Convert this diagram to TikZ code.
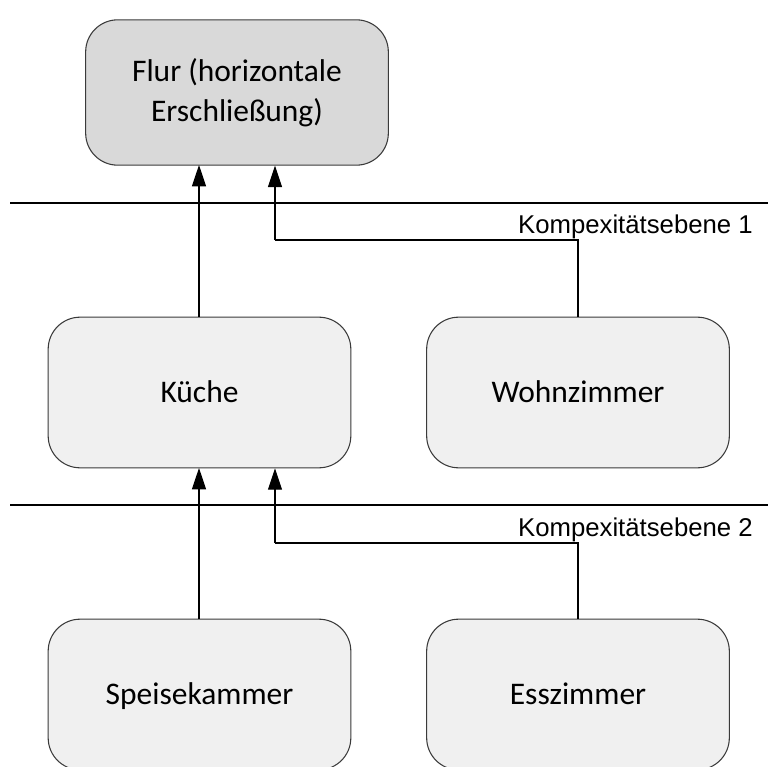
\documentclass[tikz,border=0pt]{standalone}
\usepackage{fontspec}
\usetikzlibrary{arrows.meta}
\newfontfamily\boxfont{Carlito}
\newfontfamily\labelfont{Liberation Sans}
\definecolor{roomfill}{HTML}{F0F0F0}
\definecolor{hallfill}{HTML}{D9D9D9}
\definecolor{roomedge}{HTML}{3A3A3A}
\tikzset{
  boxbase/.style={draw=roomedge, line width=0.8pt, fill=roomfill, rounded corners=24pt,
    minimum width=227pt, minimum height=113pt, inner sep=0pt, align=center,
    font=\boxfont\fontsize{23.6}{30}\selectfont},
  room/.style={boxbase, text height=17pt, text depth=2pt},
  hall/.style={boxbase, fill=hallfill, minimum height=109pt},
  levelline/.style={line width=0.8pt, black},
  levellabel/.style={anchor=base east, inner sep=0pt, font=\labelfont\fontsize{19.3}{23}\selectfont},
  link/.style={line width=0.8pt, black, -{Triangle[length=16pt,width=10.5pt]}},
  plainlink/.style={line width=0.8pt, black}
}
\begin{document}
\begin{tikzpicture}[x=0.75pt, y=-0.75pt]
  \useasboundingbox (0,0) rectangle (768,767);

  % rooms
  \node[hall] (flur) at (237,92.5) {Flur (horizontale\\Erschließung)};
  \node[room] (kueche) at (199.5,392.5) {Küche};
  \node[room] (wohn) at (578,392.5) {Wohnzimmer};
  \node[room] (speise) at (199.5,694.5) {Speisekammer};
  \node[room] (ess) at (578,694.5) {Esszimmer};

  % complexity levels
  \coordinate (l1a) at (10,203);
  \coordinate (l1b) at (768,203);
  \coordinate (l2a) at (10,505);
  \coordinate (l2b) at (768,505);
  \draw[levelline] (l1a) -- (l1b);
  \draw[levelline] (l2a) -- (l2b);
  \node[levellabel] (lab1) at (753,233) {Kompexitätsebene 1};
  \node[levellabel] (lab2) at (753,536) {Kompexitätsebene 2};

  % connections to the corridor
  \coordinate (j1) at (275,240);
  \draw[link] (kueche.north -| 199,0) -- (199,165);
  \draw[plainlink] (wohn.north) |- (j1);
  \draw[link] (j1) -- (j1 |- flur.south);

  % connections to the kitchen
  \coordinate (j2) at (275,543);
  \draw[link] (speise.north -| 199,0) -- (199,468);
  \draw[plainlink] (ess.north) |- (j2);
  \draw[link] (j2) -- (j2 |- kueche.south);
\end{tikzpicture}
\end{document}
